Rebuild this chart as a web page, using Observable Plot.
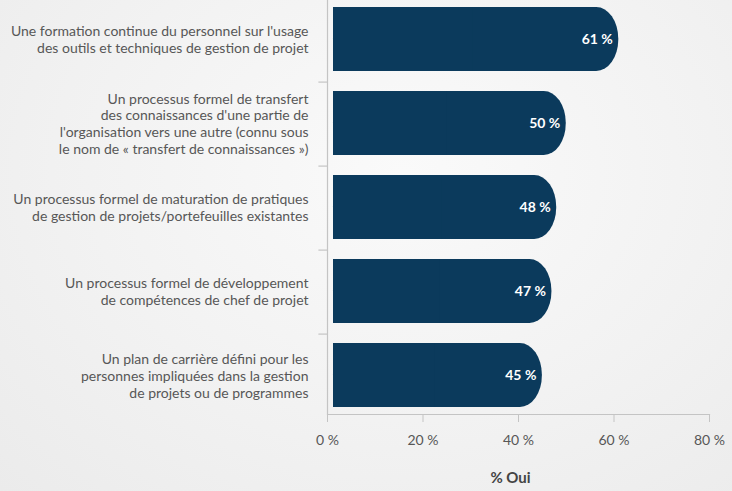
<!DOCTYPE html>
<html>
<head>
<meta charset="utf-8">
<script src="https://cdn.jsdelivr.net/npm/d3@7"></script>
<script src="https://cdn.jsdelivr.net/npm/@observablehq/plot@0.6"></script>
<style>
  html, body { margin: 0; padding: 0; }
  body {
    width: 732px; height: 491px; overflow: hidden;
    background: radial-gradient(ellipse at 55% 35%, #fafafa 0%, #f2f2f2 55%, #ebebeb 100%);
    font-family: Lato, "Open Sans", sans-serif;
  }
  #chart svg { display: block; background: transparent; }
</style>
</head>
<body>
<div id="chart"></div>
<script>
const categories = [
  "Une formation continue du personnel sur l'usage\ndes outils et techniques de gestion de projet",
  "Un processus formel de transfert\ndes connaissances d'une partie de\nl'organisation vers une autre (connu sous\nle nom de « transfert de connaissances »)",
  "Un processus formel de maturation de pratiques\nde gestion de projets/portefeuilles existantes",
  "Un processus formel de développement\nde compétences de chef de projet",
  "Un plan de carrière défini pour les\npersonnes impliquées dans la gestion\nde projets ou de programmes"
];
const values = [61, 50, 48, 47, 45];
const xTicks = [0, 20, 40, 60, 80];
const axisTitle = "% Oui";

const data = categories.map((c, i) => ({category: c, value: values[i]}));

const W = 732, H = 491;
const mTop = 0, mBottom = 77;
const step = (H - mTop - mBottom) / categories.length;
const navy = "#0b3a5c";
const grey = "#c4c4c4";
const textGrey = "#575757";

const chart = Plot.plot({
  width: W,
  height: H,
  marginLeft: 327,
  marginRight: 23,
  marginTop: mTop,
  marginBottom: mBottom,
  style: {fontFamily: "Lato, 'Open Sans', sans-serif", fontSize: "14px", color: textGrey, background: "transparent"},
  x: {domain: [0, 80], axis: null},
  y: {domain: categories, paddingInner: 0.24, paddingOuter: 0.08, axis: null},
  marks: [
    Plot.ruleX([0], {stroke: grey, strokeWidth: 1.2}),
    Plot.frame({anchor: "bottom", stroke: grey, strokeWidth: 1.2}),
    Plot.ruleY(categories, {y: d => d, x1: -1.8, x2: 0, dy: -step / 2, stroke: grey, strokeWidth: 1.2}),
    Plot.barX(data, {x: "value", y: "category", fill: navy, insetLeft: 6, rx: 22, ry: 31.5}),
    Plot.barX(data, {x1: 0, x2: d => d.value / 2, y: "category", fill: navy, insetLeft: 6}),
    Plot.text(data, {x: "value", y: "category", text: d => d.value + " %", textAnchor: "end", dx: -6, fill: "white", fontWeight: "bold", fontSize: 14}),
    Plot.text(categories, {y: d => d, frameAnchor: "left", dx: -19, textAnchor: "end", lineHeight: 1.2, fill: textGrey, fontSize: 14}),
    Plot.axisX(xTicks, {tickFormat: d => d + " %", tickSize: 8, tickPadding: 13, stroke: grey, fill: textGrey, fontSize: 14, label: null}),
    Plot.text([axisTitle], {frameAnchor: "bottom", dy: 68, dx: -8, fontWeight: "bold", fontSize: 15, fill: "#444"})
  ]
});
document.getElementById("chart").appendChild(chart);
</script>
</body>
</html>
